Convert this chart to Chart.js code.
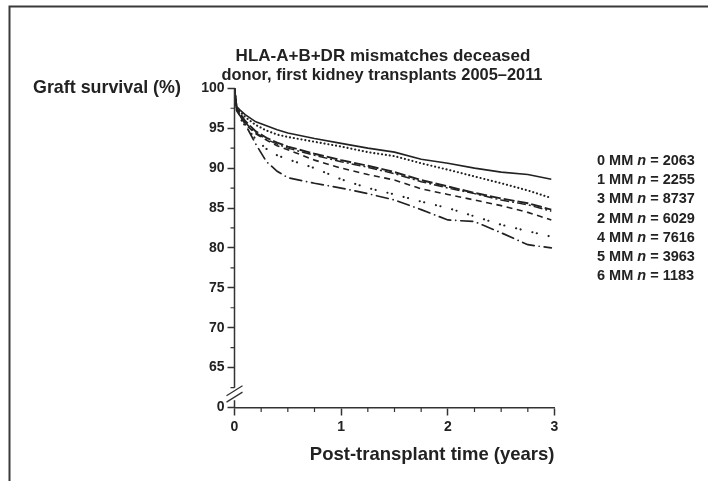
<!DOCTYPE html>
<html><head><meta charset="utf-8">
<script src="https://cdn.jsdelivr.net/npm/chart.js@4.4.0/dist/chart.umd.min.js"></script>
<style>html,body{margin:0;padding:0;background:#fff;}canvas{display:block;}</style>
</head><body>
<canvas id="c" width="708" height="481"></canvas>
<script>
// ---- data ----
const times = [0, 0.02, 0.05, 0.1, 0.2, 0.3, 0.4, 0.5, 0.75, 1, 1.25, 1.5, 1.75, 2, 2.25, 2.5, 2.75, 2.97];
const mm0 = [100, 97.7, 97.3, 96.7, 95.8, 95.3, 94.8, 94.4, 93.7, 93.1, 92.5, 92.0, 91.1, 90.6, 90.0, 89.5, 89.2, 88.6];
const mm1 = [100, 97.6, 97.1, 96.4, 95.4, 94.7, 94.2, 93.9, 93.3, 92.7, 92.0, 91.5, 90.6, 89.8, 88.95, 88.1, 87.2, 86.25];
const mm3 = [100, 97.5, 96.9, 95.9, 94.6, 93.8, 93.2, 92.7, 91.8, 91.0, 90.3, 89.5, 88.5, 87.7, 86.9, 86.2, 85.6, 84.8];
const mm2 = [100, 97.4, 96.8, 95.7, 94.4, 93.6, 93.0, 92.5, 91.6, 90.8, 90.1, 89.3, 88.3, 87.5, 86.8, 86.0, 85.4, 84.6];
const mm4 = [100, 97.4, 96.6, 95.5, 94.3, 93.5, 92.8, 92.3, 91.0, 90.0, 89.2, 88.5, 87.4, 86.7, 86.0, 85.3, 84.45, 83.5];
const mm5 = [100, 97.3, 96.3, 95.3, 93.6, 92.4, 91.6, 91.1, 90.0, 88.6, 87.5, 86.7, 85.8, 85.0, 83.95, 82.9, 82.1, 81.4];
const mm6 = [100, 97.2, 96.6, 95.5, 93.0, 90.8, 89.6, 88.8, 88.1, 87.5, 86.8, 86.0, 84.8, 83.5, 83.3, 81.9, 80.4, 80.0];
const seriesNames = ['0 MM', '1 MM', '3 MM', '2 MM', '4 MM', '5 MM', '6 MM'];
const seriesN = ['2063', '2255', '8737', '6029', '7616', '3963', '1183'];
const seriesValues = [mm0, mm1, mm3, mm2, mm4, mm5, mm6];
const yTickValues = [60, 65, 70, 75, 80, 85, 90, 95, 100];
const yTickLabels = ['0', '65', '70', '75', '80', '85', '90', '95', '100'];
const xTickValues = [0, 1, 2, 3];
const titleBold = 'HLA-A+B+DR';
const titleRest1 = ' mismatches deceased';
const titleLine2 = 'donor, first kidney transplants 2005\u20132011';
const yTitle = 'Graft survival (%)';
const xTitle = 'Post-transplant time (years)';

// ---- styles ----
const F = '"Liberation Sans", Arial, sans-serif';
const INK = '#222';
const dashes = [[], [0.1, 3.8], [11, 3], [9, 3, 2, 3], [6, 4.5], [0.1, 4.5, 0.1, 12], [12, 5, 0.1, 5]];
const caps = ['butt', 'round', 'butt', 'butt', 'butt', 'round', 'round'];
const widths = [1.6, 2.1, 1.9, 1.5, 1.6, 2.1, 1.7];

const datasets = seriesValues.map((vals, k) => ({
  label: seriesNames[k],
  data: times.map((t, i) => ({x: t, y: vals[i]})),
  borderColor: INK,
  borderWidth: widths[k],
  borderDash: dashes[k],
  borderCapStyle: caps[k],
  pointRadius: 0,
  tension: 0,
  fill: false
}));

function fitFont(ctx, text, style, base, target) {
  ctx.font = style + ' ' + base + 'px ' + F;
  const w = ctx.measureText(text).width;
  return style + ' ' + (base * target / w).toFixed(2) + 'px ' + F;
}

const decor = {
  id: 'decor',
  afterDraw(chart) {
    const ctx = chart.ctx;
    const xs = chart.scales.x, ys = chart.scales.y;
    const ca = chart.chartArea;
    ctx.save();
    // frame
    ctx.strokeStyle = '#3a3a3a';
    ctx.lineWidth = 2;
    ctx.beginPath();
    ctx.moveTo(9.5, 481); ctx.lineTo(9.5, 6.5); ctx.lineTo(708, 6.5);
    ctx.stroke();

    ctx.fillStyle = INK;
    ctx.textBaseline = 'middle';
    // title
    ctx.font = 'bold 17px ' + F;
    const wb = ctx.measureText(titleBold).width;
    const wr = ctx.measureText(titleRest1).width;
    const tx = 383 - (wb + wr) / 2;
    ctx.textAlign = 'left';
    ctx.fillText(titleBold, tx, 56);
    ctx.fillText(titleRest1, tx + wb, 56);
    ctx.textAlign = 'center';
    ctx.font = fitFont(ctx, titleLine2, 'bold', 17, 321);
    ctx.fillText(titleLine2, 382, 75);

    // y title
    ctx.textAlign = 'left';
    ctx.font = fitFont(ctx, yTitle, 'bold', 17, 148);
    ctx.fillText(yTitle, 33, ys.getPixelForValue(100));

    // x title
    ctx.textAlign = 'right';
    ctx.font = 'bold 18.5px ' + F;
    ctx.fillText(xTitle, xs.getPixelForValue(3), 455);

    // legend
    ctx.textAlign = 'left';
    seriesNames.forEach((nm, k) => {
      const y = 161 + k * 19.2;
      let x = 597;
      ctx.font = 'bold 14.5px ' + F;
      ctx.fillText(nm + ' ', x, y); x += ctx.measureText(nm + ' ').width;
      ctx.font = 'italic bold 14.5px ' + F;
      ctx.fillText('n', x, y); x += ctx.measureText('n').width;
      ctx.font = 'bold 14.5px ' + F;
      ctx.fillText(' = ' + seriesN[k], x, y);
    });

    // y axis line with break
    const ax = xs.getPixelForValue(0);
    ctx.strokeStyle = '#333';
    ctx.lineWidth = 1.5;
    const yTop = ys.getPixelForValue(100);
    const yA = ys.getPixelForValue(62.1);
    const yB = ys.getPixelForValue(61.3);
    const yBot = ys.getPixelForValue(60);
    ctx.beginPath();
    ctx.moveTo(ax, yTop); ctx.lineTo(ax, yA - 3);
    ctx.moveTo(ax, yB + 3); ctx.lineTo(ax, yBot);
    ctx.stroke();
    ctx.lineWidth = 1.3;
    ctx.beginPath();
    [yA, yB].forEach(yc => { ctx.moveTo(ax - 8, yc + 5); ctx.lineTo(ax + 8, yc - 5); });
    ctx.stroke();

    // minor ticks
    ctx.lineWidth = 1.2;
    ctx.beginPath();
    for (let v = 62.5; v < 100; v += 5) {
      const y = ys.getPixelForValue(v);
      ctx.moveTo(ax - 4, y); ctx.lineTo(ax, y);
    }
    for (let t = 0.25; t < 3; t += 0.25) {
      if (Math.abs(t - Math.round(t)) < 1e-6) continue;
      const x = xs.getPixelForValue(t);
      ctx.moveTo(x, ca.bottom); ctx.lineTo(x, ca.bottom + 4.5);
    }
    ctx.stroke();
    ctx.restore();
  }
};

new Chart(document.getElementById('c'), {
  type: 'line',
  data: {datasets},
  options: {
    responsive: false,
    animation: false,
    devicePixelRatio: 1,
    layout: {padding: {left: 0, right: 153.5, top: 88.3, bottom: 0}},
    plugins: {legend: {display: false}, tooltip: {enabled: false}, title: {display: false}},
    scales: {
      x: {
        type: 'linear', min: 0, max: 3,
        afterBuildTicks: s => { s.ticks = xTickValues.map(v => ({value: v})); },
        ticks: {color: INK, font: {family: F, size: 14, weight: 'bold'}, padding: 3, maxRotation: 0,
                callback: v => String(v)},
        grid: {drawOnChartArea: false, drawTicks: true, tickLength: 8, tickWidth: 1.5, tickColor: '#333'},
        border: {display: true, color: '#333', width: 1.5},
        afterFit: s => { s.height = 73.5; }
      },
      y: {
        type: 'linear', min: 60, max: 100,
        afterBuildTicks: s => { s.ticks = yTickValues.map(v => ({value: v})); },
        ticks: {color: INK, font: {family: F, size: 14, weight: 'bold'}, padding: 3,
                callback: v => yTickLabels[yTickValues.indexOf(v)]},
        grid: {drawOnChartArea: false, drawTicks: true, tickLength: 7, tickWidth: 1.5, tickColor: '#333'},
        border: {display: false},
        afterFit: s => { s.width = 234.5; }
      }
    }
  },
  plugins: [decor]
});
</script>
</body></html>
